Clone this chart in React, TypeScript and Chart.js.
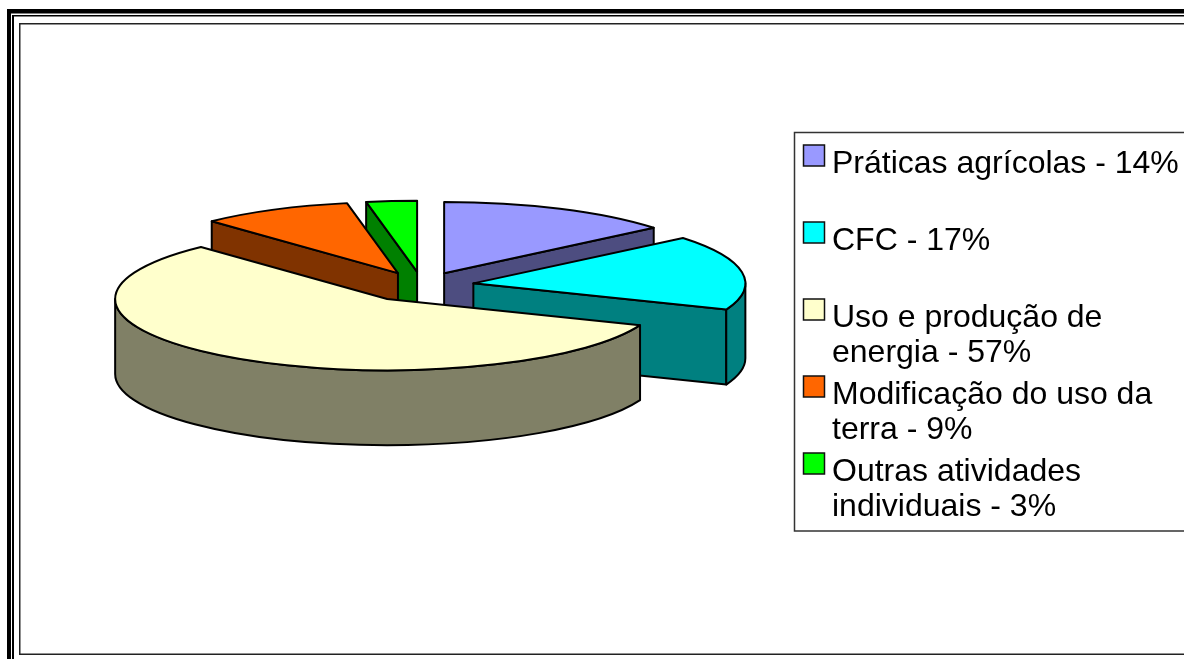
import React, { useEffect, useRef } from "react";
import { Chart, registerables } from "chart.js";

Chart.register(...registerables);

const categories = [
  "Práticas agrícolas - 14%",
  "CFC - 17%",
  "Uso e produção de energia - 57%",
  "Modificação do uso da terra - 9%",
  "Outras atividades individuais - 3%",
];
const legendLines = [
  ["Práticas agrícolas - 14%"],
  ["CFC - 17%"],
  ["Uso e produção de", "energia - 57%"],
  ["Modificação do uso da", "terra - 9%"],
  ["Outras atividades", "individuais - 3%"],
];
const values = [14, 17, 57, 9, 3];
const topColors = ["#9999FF", "#00FFFF", "#FFFFCC", "#FF6600", "#00FF00"];
const wallColors = ["#4D4D80", "#008080", "#808066", "#803300", "#008000"];
const explode = [52, 52, 62, 53, 52];
const paintOrder = [4, 3, 0, 1, 2];

const TILT = 0.262;
const DEPTH = 75;

const pie3d = {
  id: "pie3d",
  beforeDraw(chart: any) {
    const { ctx, width, height } = chart;
    ctx.save();
    ctx.fillStyle = "#fff";
    ctx.fillRect(0, 0, width, height);
    ctx.fillStyle = "#000";
    ctx.fillRect(7, 9, width - 7, 4.5);
    ctx.fillRect(7, 9, 4, height - 9);
    ctx.fillRect(12, 15, width - 12, 1.5);
    ctx.fillRect(12, 15, 2, height - 15);
    ctx.fillStyle = "#222";
    ctx.fillRect(19, 23, width - 19, 1.5);
    ctx.fillRect(19, 23, 1.5, 632);
    ctx.fillRect(19, 653.5, width - 19, 1.5);
    ctx.restore();
  },
  beforeDatasetDraw(chart: any, args: any) {
    const { ctx } = chart;
    const arcs = args.meta.data;
    ctx.save();
    ctx.lineJoin = "round";
    for (const i of paintOrder) {
      const arc = arcs[i];
      const o = arc.options;
      const a = arc.outerRadius;
      const b = a * TILT;
      const s = arc.startAngle;
      const e = arc.endAngle;
      const mid = (s + e) / 2;
      const cx = arc.x + Math.cos(mid) * o.offset;
      const cy = arc.y + Math.sin(mid) * o.offset * TILT;
      const pt = (t: number) => [cx + a * Math.cos(t), cy + b * Math.sin(t)];

      const stroke = (fill: string) => {
        ctx.fillStyle = fill;
        ctx.strokeStyle = o.borderColor;
        ctx.lineWidth = o.borderWidth;
        ctx.fill();
        ctx.stroke();
      };
      const radialFace = (t: number) => {
        const [px, py] = pt(t);
        ctx.beginPath();
        ctx.moveTo(cx, cy);
        ctx.lineTo(px, py);
        ctx.lineTo(px, py + DEPTH);
        ctx.lineTo(cx, cy + DEPTH);
        ctx.closePath();
        stroke(wallColors[i]);
      };

      if (Math.cos(s) < -1e-6) radialFace(s);
      if (Math.cos(e) > 1e-6) radialFace(e);

      const w0 = Math.max(s, 0);
      const w1 = Math.min(e, Math.PI);
      if (w1 > w0) {
        ctx.beginPath();
        ctx.ellipse(cx, cy, a, b, 0, w0, w1);
        ctx.ellipse(cx, cy + DEPTH, a, b, 0, w1, w0, true);
        ctx.closePath();
        stroke(wallColors[i]);
      }

      ctx.beginPath();
      ctx.moveTo(cx, cy);
      ctx.ellipse(cx, cy, a, b, 0, s, e);
      ctx.closePath();
      stroke(o.backgroundColor);
    }
    ctx.restore();
    return false;
  },
  afterDraw(chart: any) {
    const { ctx, width } = chart;
    ctx.save();
    ctx.strokeStyle = "#333";
    ctx.lineWidth = 1.5;
    ctx.beginPath();
    ctx.moveTo(width + 2, 132.5);
    ctx.lineTo(794.5, 132.5);
    ctx.lineTo(794.5, 531);
    ctx.lineTo(width + 2, 531);
    ctx.stroke();

    ctx.font = '32px "Liberation Sans"';
    ctx.textBaseline = "alphabetic";
    ctx.textAlign = "left";
    legendLines.forEach((lines, i) => {
      const base = 172 + i * 77;
      ctx.fillStyle = topColors[i];
      ctx.strokeStyle = "#111";
      ctx.lineWidth = 1.5;
      ctx.fillRect(803.5, base - 27, 21, 21);
      ctx.strokeRect(803.5, base - 27, 21, 21);
      ctx.fillStyle = "#000";
      lines.forEach((line, j) => ctx.fillText(line, 832, base + 1 + j * 35));
    });
    ctx.restore();
  },
};

export default function App() {
  const ref = useRef<HTMLCanvasElement | null>(null);
  useEffect(() => {
    document.body.style.margin = "0";
    document.body.style.background = "#fff";
    const chart = new Chart(ref.current as HTMLCanvasElement, {
      type: "pie",
      data: {
        labels: categories,
        datasets: [
          {
            data: values,
            backgroundColor: topColors,
            borderColor: "#000",
            borderWidth: 2,
            offset: explode,
          },
        ],
      },
      options: {
        responsive: false,
        animation: false,
        events: [],
        radius: 272,
        layout: { padding: { left: 0, top: 0, right: 340, bottom: 88 } },
        plugins: {
          legend: { display: false },
          title: { display: false },
          tooltip: { enabled: false },
        },
      } as any,
      plugins: [pie3d],
    });
    return () => chart.destroy();
  }, []);
  return (
    <canvas
      ref={ref}
      width={1184}
      height={659}
      style={{ display: "block", width: 1184, height: 659 }}
    />
  );
}
